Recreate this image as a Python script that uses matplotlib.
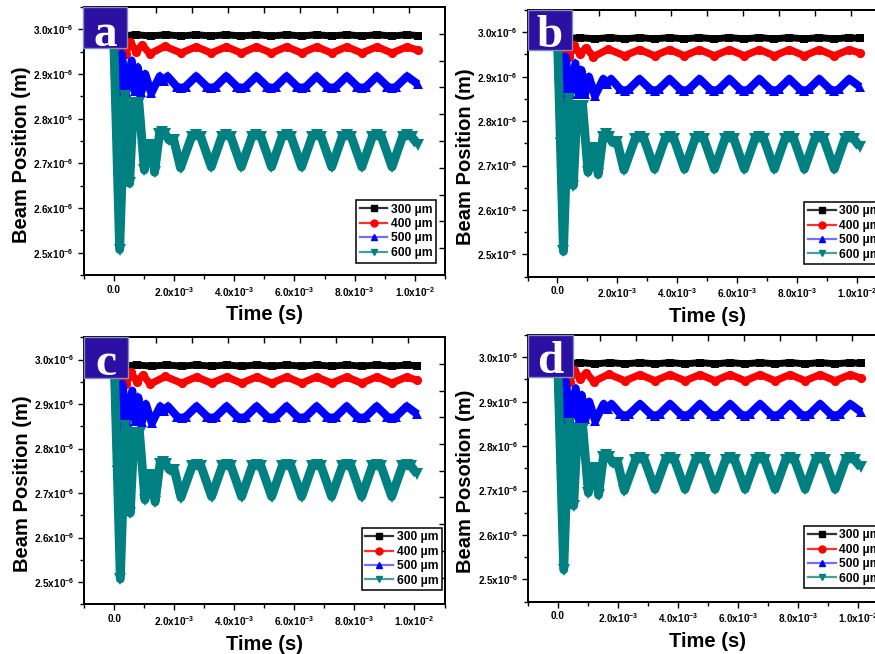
import numpy as np
import matplotlib
matplotlib.use('Agg')
import matplotlib.pyplot as plt
from matplotlib.lines import Line2D
from matplotlib.patches import Rectangle
from matplotlib.ticker import MultipleLocator, FuncFormatter

plt.rcParams['font.family'] = ['Liberation Sans', 'DejaVu Sans']
plt.rcParams['mathtext.fontset'] = 'custom'
plt.rcParams['mathtext.rm'] = 'Liberation Sans:bold'
plt.rcParams['mathtext.bf'] = 'Liberation Sans:bold'
plt.rcParams['mathtext.it'] = 'Liberation Sans:bold'
plt.rcParams['mathtext.default'] = 'bf'

# ---------------- data (time in ms, beam position in µm) ----------------
panel_letters = ['a', 'b', 'c', 'd']
y_labels = ['Beam Position (m)', 'Beam Position (m)', 'Beam Position (m)', 'Beam Posotion (m)']
x_label = 'Time (s)'
series_labels = ['300 µm', '400 µm', '500 µm', '600 µm']

t300_ms = [0.00, 0.24, 0.74, 1.24, 1.74, 2.24, 2.74, 3.24, 3.74, 4.24, 4.74,
           5.24, 5.74, 6.24, 6.74, 7.24, 7.74, 8.24, 8.74, 9.24, 9.74, 10.10]
y300_um = [2.990, 2.985, 2.988, 2.985, 2.988, 2.985, 2.988, 2.985, 2.988, 2.985, 2.988,
           2.985, 2.988, 2.985, 2.988, 2.985, 2.988, 2.985, 2.988, 2.985, 2.988, 2.986]

t400_ms = [0.00, 0.10, 0.25, 0.40, 0.55, 0.75, 0.95, 1.20, 1.70, 2.24, 2.74, 3.24, 3.74,
           4.24, 4.74, 5.24, 5.74, 6.24, 6.74, 7.24, 7.74, 8.24, 8.74, 9.24, 9.74, 10.10]
y400_um = [2.990, 2.942, 2.974, 2.945, 2.972, 2.950, 2.965, 2.945, 2.962, 2.947, 2.961, 2.947, 2.961,
           2.947, 2.961, 2.947, 2.961, 2.947, 2.961, 2.947, 2.961, 2.947, 2.961, 2.947, 2.961, 2.953]

t500_ms = [0.00, 0.10, 0.27, 0.42, 0.60, 0.70, 0.80, 0.92, 1.05, 1.25, 1.53, 1.66, 1.79,
           2.09, 2.24, 2.39, 2.74, 3.09, 3.24, 3.39, 3.74, 4.09, 4.24, 4.39, 4.74,
           5.09, 5.24, 5.39, 5.74, 6.09, 6.24, 6.39, 6.74, 7.09, 7.24, 7.39, 7.74,
           8.09, 8.24, 8.39, 8.74, 9.09, 9.24, 9.39, 9.74, 10.10]
y500_um = [2.990, 2.770, 2.945, 2.860, 2.930, 2.862, 2.915, 2.860, 2.900, 2.857, 2.895, 2.884, 2.895,
           2.872, 2.868, 2.872, 2.895, 2.872, 2.868, 2.872, 2.895, 2.872, 2.868, 2.872, 2.895,
           2.872, 2.868, 2.872, 2.895, 2.872, 2.868, 2.872, 2.895, 2.872, 2.868, 2.872, 2.895,
           2.872, 2.868, 2.872, 2.895, 2.872, 2.868, 2.872, 2.895, 2.877]

t600_ms = [0.00, 0.20, 0.37, 0.53, 0.66, 0.84, 1.02, 1.12, 1.26, 1.36, 1.52, 1.62, 1.72,
           1.84, 2.00, 2.22, 2.59, 2.74, 2.89, 3.24, 3.59, 3.74, 3.89, 4.24, 4.59,
           4.74, 4.89, 5.24, 5.59, 5.74, 5.89, 6.24, 6.59, 6.74, 6.89, 7.24, 7.59,
           7.74, 7.89, 8.24, 8.59, 8.74, 8.89, 9.24, 9.59, 9.74, 9.89, 10.10]
y600_um = [2.990, 2.507, 2.850, 2.655, 2.835, 2.835, 2.685, 2.740, 2.740, 2.680, 2.765, 2.770, 2.765,
           2.752, 2.752, 2.690, 2.760, 2.764, 2.760, 2.692, 2.760, 2.764, 2.760, 2.692, 2.760,
           2.764, 2.760, 2.692, 2.760, 2.764, 2.760, 2.692, 2.760, 2.764, 2.760, 2.692, 2.760,
           2.764, 2.760, 2.692, 2.760, 2.764, 2.760, 2.692, 2.760, 2.764, 2.760, 2.742]
# panel d: the 600 µm curve sits slightly higher
y600d_um = [2.990, 2.522, 2.849, 2.666, 2.838, 2.838, 2.695, 2.750, 2.750, 2.690, 2.775, 2.780, 2.775,
            2.762, 2.762, 2.700, 2.769, 2.773, 2.769, 2.703, 2.769, 2.773, 2.769, 2.703, 2.769,
            2.773, 2.769, 2.703, 2.769, 2.773, 2.769, 2.703, 2.769, 2.773, 2.769, 2.703, 2.769,
            2.773, 2.769, 2.703, 2.769, 2.773, 2.769, 2.703, 2.769, 2.773, 2.769, 2.752]

# ---------------- styling ----------------
W, H = 875, 654
colors = ['#000000', '#ff0000', '#0000ff', '#008080']
leg_line_colors = ['#333333', '#ff3030', '#7070ff', '#4a9e9e']
markers = ['s', 'o', '^', 'v']
line_w = [5.0, 5.3, 5.8, 6.4]
mark_s = [5.6, 6.6, 7.6, 8.4]

# panel frames in pixels: (left, right, top, bottom)
frames = [(83.5, 445.0, 7.0, 275.0),
          (527.5, 887.0, 10.0, 276.7),
          (84.3, 444.5, 337.3, 604.3),
          (527.7, 888.0, 335.0, 601.7)]
legend_anchor = [(356.0, 200.0), (804.3, 201.7), (361.7, 527.7), (804.3, 525.7)]
letter_boxes = [(83.3, 127.3, 7.0, 48.3, 46.3),
                (527.5, 571.7, 10.0, 50.0, 46.7),
                (84.3, 128.3, 337.3, 378.3, 375.3),
                (527.7, 572.7, 335.0, 376.7, 373.3)]

fig = plt.figure(figsize=(W / 100, H / 100), dpi=100)


def fx(px):
    return px / W


def fy(py):
    return 1 - py / H


def sci_fmt(v, pos):
    if abs(v) < 1e-15:
        return '0.0'
    e = int(np.floor(np.log10(abs(v)) + 1e-9))
    m = v / 10 ** e
    return '%.1fx10$^{%d}$' % (m, e)


for k in range(4):
    l, r, t, b = frames[k]
    ax = fig.add_axes([fx(l), fy(b), fx(r) - fx(l), fy(t) - fy(b)])
    teal_y = y600d_um if k == 3 else y600_um
    data = [(t300_ms, y300_um), (t400_ms, y400_um), (t500_ms, y500_um), (t600_ms, teal_y)]
    for (tt, yy), c, mk, lw, ms in zip(data, colors, markers, line_w, mark_s):
        ax.plot(np.array(tt) * 1e-3, np.array(yy) * 1e-6, color=c, lw=lw,
                marker=mk, ms=ms, mew=0, solid_joinstyle='round', solid_capstyle='butt')
    ax.set_xlim(-1.0e-3, 1.1e-2)
    ax.set_ylim(2.45e-6, 3.05e-6)
    ax.xaxis.set_major_locator(MultipleLocator(2e-3))
    ax.xaxis.set_minor_locator(MultipleLocator(1e-3))
    ax.yaxis.set_major_locator(MultipleLocator(1e-7))
    ax.yaxis.set_minor_locator(MultipleLocator(5e-8))
    ax.xaxis.set_major_formatter(FuncFormatter(sci_fmt))
    ax.yaxis.set_major_formatter(FuncFormatter(sci_fmt))
    ax.tick_params(which='both', direction='out', top=False, right=False, width=1.0)
    ax.tick_params(which='major', length=4.5, labelsize=7.2)
    ax.tick_params(which='minor', length=3)
    ax.tick_params(axis='x', pad=2.5)
    ax.tick_params(axis='y', pad=2.5)
    for s in ax.spines.values():
        s.set_linewidth(1.1)
    for lab in ax.get_xticklabels() + ax.get_yticklabels():
        lab.set_fontweight('bold')

    # opposite-side inward ticks (independent division)
    axt = ax.twiny()
    axt.set_xlim(0, 1)
    axt.set_xticks(np.arange(0.1, 1.0, 0.1))
    axt.tick_params(direction='in', length=4, width=1.0, labeltop=False)
    axr = ax.twinx()
    axr.set_ylim(0, 1)
    axr.set_yticks(np.arange(0.1, 1.0, 0.1))
    axr.tick_params(direction='in', length=4, width=1.0, labelright=False)
    for a2 in (axt, axr):
        for s in a2.spines.values():
            s.set_linewidth(1.1)

    # legend
    handles = [Line2D([0], [0], color=lc, lw=1.6, marker=mk, ms=5.0, mfc=c, mec=c)
               for lc, c, mk in zip(leg_line_colors, colors, markers)]
    lx, ly = legend_anchor[k]
    leg = axr.legend(handles, series_labels, loc='upper left',
                     bbox_to_anchor=(fx(lx), fy(ly)), bbox_transform=fig.transFigure,
                     borderaxespad=0, fancybox=False, framealpha=1, edgecolor='black',
                     prop={'weight': 'bold', 'size': 8.7}, handlelength=2.3,
                     handletextpad=0.3, labelspacing=0.2, borderpad=0.3)
    leg.get_frame().set_linewidth(1.1)

    # axis labels
    fig.text(fx((l + r) / 2), fy(b + 40), x_label, ha='center', va='center',
             fontsize=14.5, fontweight='bold')
    fig.text(fx(l - 62), fy(t + 0.55 * (b - t)), y_labels[k], ha='center', va='center',
             rotation=90, fontsize=14.5, fontweight='bold')

    # panel letter box
    bx0, bx1, by0, by1, base = letter_boxes[k]
    fig.add_artist(Rectangle((fx(bx0), fy(by1)), fx(bx1) - fx(bx0), fy(by0) - fy(by1),
                             transform=fig.transFigure, facecolor='#2c10a2',
                             edgecolor='#7f8fbf', lw=1.0, zorder=30))
    fig.text(fx((bx0 + bx1) / 2), fy(base), panel_letters[k], ha='center', va='baseline',
             color='white', fontsize=34, fontweight='bold',
             family=['Liberation Serif', 'DejaVu Serif'], zorder=31)

fig.savefig('out.png', dpi=100)
